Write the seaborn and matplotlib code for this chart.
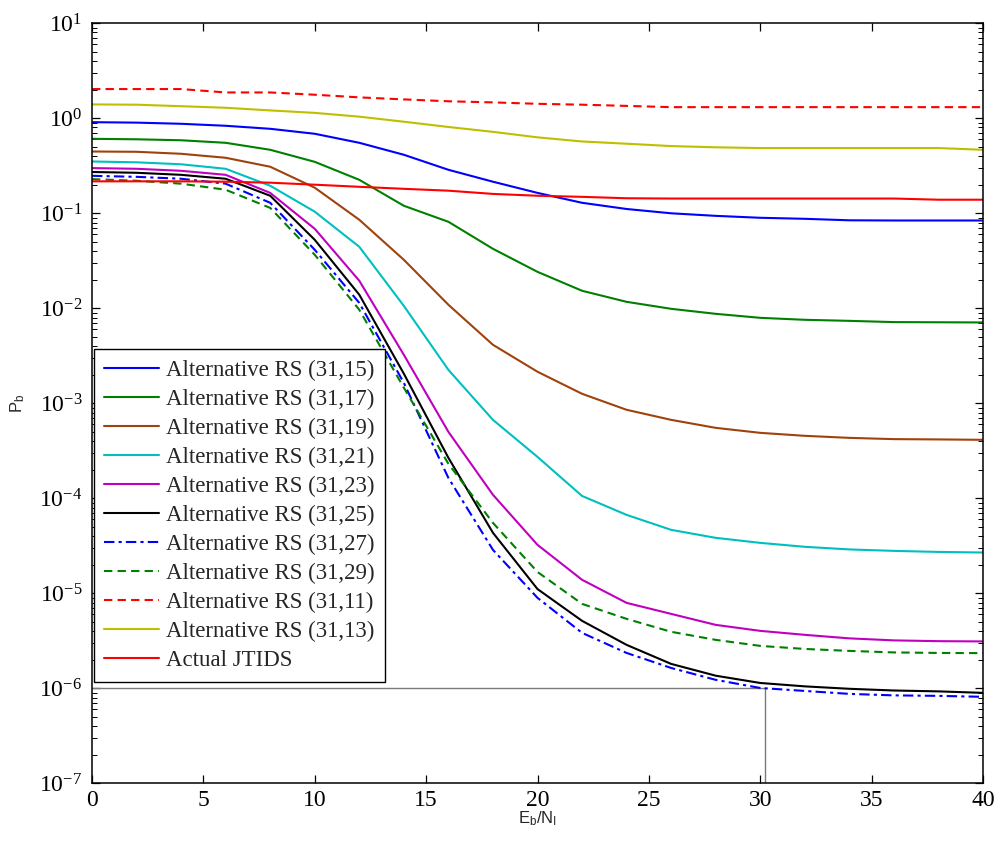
import numpy as np
import pandas as pd
import seaborn as sns
import matplotlib.pyplot as plt
from matplotlib.ticker import LogLocator, MultipleLocator, NullFormatter, FuncFormatter

ebn0 = [0, 2, 4, 6, 8, 10, 12, 14, 16, 18, 20, 22, 24, 26, 28, 30, 32, 34, 36, 38, 40]

rs_31_15 = [0.91, 0.90, 0.875, 0.834, 0.775, 0.687, 0.552, 0.413, 0.287, 0.215, 0.164,
            0.129, 0.111, 0.100, 0.094, 0.0897, 0.0875, 0.0844, 0.084, 0.084, 0.084]
rs_31_17 = [0.608, 0.601, 0.587, 0.552, 0.466, 0.348, 0.225, 0.12, 0.0814, 0.0423, 0.0242,
            0.0153, 0.0117, 0.00988, 0.00875, 0.00794, 0.00757, 0.00738, 0.00716, 0.00713, 0.0071]
rs_31_19 = [0.447, 0.444, 0.423, 0.384, 0.309, 0.186, 0.0855, 0.0324, 0.0109, 0.00413, 0.00215,
            0.00126, 8.55e-4, 6.7e-4, 5.52e-4, 4.89e-4, 4.55e-4, 4.33e-4, 4.2e-4, 4.17e-4, 4.13e-4]
rs_31_21 = [0.351, 0.344, 0.328, 0.294, 0.195, 0.104, 0.0444, 0.0106, 0.00225, 6.7e-4, 2.73e-4,
            1.06e-4, 6.7e-5, 4.66e-5, 3.84e-5, 3.4e-5, 3.09e-5, 2.9e-5, 2.8e-5, 2.73e-5, 2.69e-5]
rs_31_23 = [0.299, 0.294, 0.28, 0.254, 0.164, 0.0687, 0.0195, 0.00324, 5.01e-4, 1.09e-4, 3.24e-5,
            1.39e-5, 7.94e-6, 6.08e-6, 4.66e-6, 4.03e-6, 3.66e-6, 3.36e-6, 3.2e-6, 3.14e-6, 3.12e-6]
rs_31_25 = [0.272, 0.267, 0.254, 0.231, 0.153, 0.0526, 0.0139, 0.00205, 2.67e-4, 4.34e-5, 1.11e-5,
            5.14e-6, 2.87e-6, 1.81e-6, 1.36e-6, 1.14e-6, 1.05e-6, 9.9e-7, 9.5e-7, 9.3e-7, 8.97e-7]
rs_31_27 = [0.248, 0.242, 0.231, 0.205, 0.129, 0.0413, 0.0114, 0.00164, 1.64e-4, 2.87e-5, 8.97e-6,
            3.84e-6, 2.36e-6, 1.64e-6, 1.23e-6, 1.01e-6, 9.4e-7, 8.75e-7, 8.44e-7, 8.34e-7, 8.15e-7]
rs_31_29 = [0.229, 0.22, 0.205, 0.177, 0.114, 0.0366, 0.00965, 0.00146, 2.31e-4, 5.52e-5, 1.68e-5,
            7.75e-6, 5.39e-6, 3.94e-6, 3.24e-6, 2.8e-6, 2.6e-6, 2.48e-6, 2.39e-6, 2.36e-6, 2.35e-6]
rs_31_11 = [2.03, 2.03, 2.03, 1.87, 1.87, 1.77, 1.66, 1.58, 1.51, 1.47, 1.42,
            1.39, 1.35, 1.31, 1.31, 1.31, 1.31, 1.31, 1.31, 1.31, 1.31]
rs_31_13 = [1.40, 1.39, 1.34, 1.29, 1.21, 1.14, 1.04, 0.92, 0.81, 0.72, 0.63,
            0.57, 0.54, 0.51, 0.495, 0.486, 0.486, 0.486, 0.486, 0.486, 0.466]
jtids = [0.217, 0.217, 0.217, 0.215, 0.21, 0.2, 0.19, 0.181, 0.173, 0.16, 0.153,
         0.149, 0.144, 0.143, 0.143, 0.143, 0.143, 0.143, 0.143, 0.139, 0.139]

# 1e-6 reference marker
ref_x = [0, 30.2, 30.2]
ref_y = [1e-6, 1e-6, 1e-7]

decades = [1e-7, 1e-6, 1e-5, 1e-4, 1e-3, 1e-2, 1e-1, 1e0, 1e1]

series = [
    ("Alternative RS (31,15)", rs_31_15, "#0000FF", "-"),
    ("Alternative RS (31,17)", rs_31_17, "#008000", "-"),
    ("Alternative RS (31,19)", rs_31_19, "#A0420C", "-"),
    ("Alternative RS (31,21)", rs_31_21, "#00BFBF", "-"),
    ("Alternative RS (31,23)", rs_31_23, "#BF00BF", "-"),
    ("Alternative RS (31,25)", rs_31_25, "#000000", "-"),
    ("Alternative RS (31,27)", rs_31_27, "#0000FF", (0, (5, 2, 1.5, 2))),
    ("Alternative RS (31,29)", rs_31_29, "#008000", (0, (4, 2.5))),
    ("Alternative RS (31,11)", rs_31_11, "#FF0000", (0, (4, 2.5))),
    ("Alternative RS (31,13)", rs_31_13, "#BFBF00", "-"),
    ("Actual JTIDS", jtids, "#FF0000", "-"),
]

df = pd.concat(
    [pd.DataFrame({"EbNI": ebn0, "Pb": vals, "curve": name}) for name, vals, _, _ in series],
    ignore_index=True,
)

sns.set_style("ticks")
plt.rcParams["font.family"] = ["Liberation Serif", "DejaVu Serif"]
plt.rcParams["mathtext.fontset"] = "custom"
plt.rcParams["mathtext.rm"] = "Liberation Serif"
plt.rcParams["mathtext.sf"] = "Liberation Sans"
plt.rcParams["axes.unicode_minus"] = False

fig = plt.figure(figsize=(10, 8.46), dpi=100)
ax = fig.add_axes([0.092, 0.074, 0.891, 0.8985])
ax.set_yscale("log")

ax.plot(ref_x, ref_y, color="#7a7a7a", lw=1.0, zorder=1)

for name, _, color, ls in series:
    sub = df[df["curve"] == name]
    sns.lineplot(data=sub, x="EbNI", y="Pb", ax=ax, color=color, linestyle=ls,
                 linewidth=1.5, label=name, estimator=None, zorder=2)

ax.set_xlim(0, 40)
ax.set_ylim(1e-7, 1e1)
ax.xaxis.set_major_locator(MultipleLocator(5))
ax.set_yticks(decades)
ax.yaxis.set_minor_locator(LogLocator(base=10, subs=np.arange(2, 10), numticks=20))
ax.yaxis.set_minor_formatter(NullFormatter())
ax.yaxis.set_major_formatter(FuncFormatter(lambda v, p: r"$\mathdefault{10^{%d}}$" % round(np.log10(v))))
ax.set_ylim(1e-7, 1e1)

ax.tick_params(which="both", direction="in", top=True, right=True, labelsize=17, colors="black")
ax.tick_params(which="major", length=6, width=0.9, pad=7)
ax.tick_params(axis="x", which="major", pad=5)
ax.tick_params(which="minor", length=3.5, width=0.7)
for sp in ax.spines.values():
    sp.set_visible(True)
    sp.set_linewidth(1.1)
    sp.set_color("black")

ax.set_xlabel(r"$\mathsf{E_b/N_I}$", fontsize=12, va="top")
ax.xaxis.set_label_coords(0.5, -0.034)
ax.set_ylabel(r"$\mathsf{P_b}$", fontsize=12)
ax.yaxis.set_label_coords(-0.073, 0.5)

leg = ax.legend(loc="lower left", bbox_to_anchor=(0.002, 0.134), borderaxespad=0,
                fontsize=16.5, frameon=True, fancybox=False, edgecolor="black",
                handlelength=2.4, handletextpad=0.3, labelspacing=0.345,
                borderpad=0.45)
leg.get_frame().set_linewidth(1.0)
leg.get_frame().set_alpha(1)

fig.savefig("out.png", dpi=100)
